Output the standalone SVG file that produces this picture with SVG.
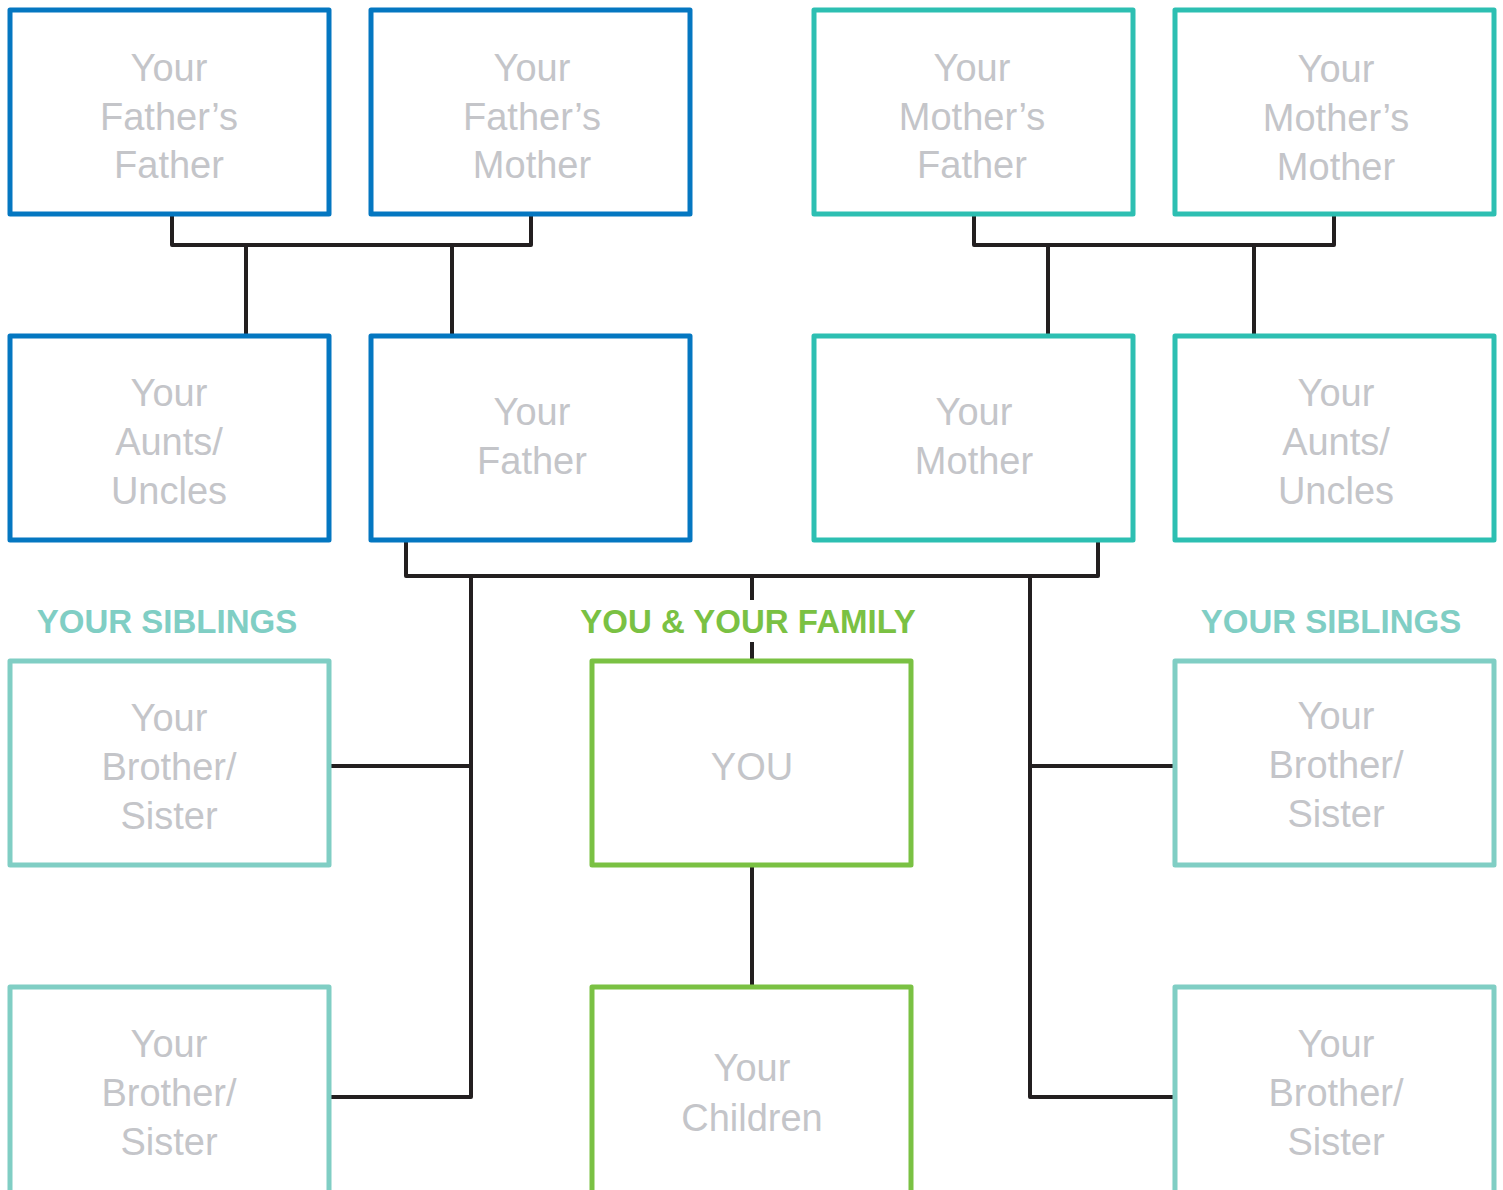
<svg xmlns="http://www.w3.org/2000/svg" width="1503" height="1190" viewBox="0 0 1503 1190">
<style>
.box{fill:#fff;stroke-width:5;stroke-linejoin:round}
.blue{stroke:#0477C1}
.teal{stroke:#2DBFB2}
.lteal{stroke:#80CEC4}
.green{stroke:#7AC143}
.t{font-family:"Liberation Sans",Arial,sans-serif;font-size:38px;fill:#C4C5C9;text-anchor:middle}
.h{font-family:"Liberation Sans",Arial,sans-serif;font-size:33px;font-weight:bold;text-anchor:middle}
.conn{fill:none;stroke:#231F20;stroke-width:4;stroke-linejoin:round}
</style>
<rect width="1503" height="1190" fill="#fff"/>
<g id="connectors" class="conn">
<path d="M172,214 V245 H531 V214"/>
<path d="M246,245 V336 M452,245 V336"/>
<path d="M974,214 V245 H1334 V214"/>
<path d="M1048,245 V336 M1254,245 V336"/>
<path d="M406,540 V576 H1098 V540"/>
<path d="M752,576 V600 M752,642 V661"/>
<path d="M471,576 V1097 H331 M471,766 H331"/>
<path d="M1030,576 V1097 H1175 M1030,766 H1175"/>
<path d="M752,865 V987"/>
</g>
<g id="ff"><rect class="box blue" x="10" y="10" width="319" height="204"/><text class="t" x="169" y="81">Your</text><text class="t" x="169" y="130">Father’s</text><text class="t" x="169" y="178">Father</text></g>
<g id="fm"><rect class="box blue" x="371" y="10" width="319" height="204"/><text class="t" x="532" y="81">Your</text><text class="t" x="532" y="130">Father’s</text><text class="t" x="532" y="178">Mother</text></g>
<g id="mf"><rect class="box teal" x="814" y="10" width="319" height="204"/><text class="t" x="972" y="81">Your</text><text class="t" x="972" y="130">Mother’s</text><text class="t" x="972" y="178">Father</text></g>
<g id="mm"><rect class="box teal" x="1175" y="10" width="319" height="204"/><text class="t" x="1336" y="82">Your</text><text class="t" x="1336" y="131">Mother’s</text><text class="t" x="1336" y="180">Mother</text></g>
<g id="fau"><rect class="box blue" x="10" y="336" width="319" height="204"/><text class="t" x="169" y="406">Your</text><text class="t" x="169" y="455">Aunts/</text><text class="t" x="169" y="504">Uncles</text></g>
<g id="father"><rect class="box blue" x="371" y="336" width="319" height="204"/><text class="t" x="532" y="425">Your</text><text class="t" x="532" y="474">Father</text></g>
<g id="mother"><rect class="box teal" x="814" y="336" width="319" height="204"/><text class="t" x="974" y="425">Your</text><text class="t" x="974" y="474">Mother</text></g>
<g id="mau"><rect class="box teal" x="1175" y="336" width="319" height="204"/><text class="t" x="1336" y="406">Your</text><text class="t" x="1336" y="455">Aunts/</text><text class="t" x="1336" y="504">Uncles</text></g>
<g id="hdr-left"><text class="h" x="167" y="633" fill="#80CEC4">YOUR SIBLINGS</text></g>
<g id="hdr-mid"><text class="h" x="748" y="633" fill="#7AC143">YOU &amp; YOUR FAMILY</text></g>
<g id="hdr-right"><text class="h" x="1331" y="633" fill="#80CEC4">YOUR SIBLINGS</text></g>
<g id="sib1"><rect class="box lteal" x="10" y="661" width="319" height="204"/><text class="t" x="169" y="731">Your</text><text class="t" x="169" y="780">Brother/</text><text class="t" x="169" y="829">Sister</text></g>
<g id="you"><rect class="box green" x="592" y="661" width="319" height="204"/><text class="t" x="752" y="780">YOU</text></g>
<g id="sib2"><rect class="box lteal" x="1175" y="661" width="319" height="204"/><text class="t" x="1336" y="729">Your</text><text class="t" x="1336" y="778">Brother/</text><text class="t" x="1336" y="827">Sister</text></g>
<g id="sib3"><rect class="box lteal" x="10" y="987" width="319" height="215"/><text class="t" x="169" y="1057">Your</text><text class="t" x="169" y="1106">Brother/</text><text class="t" x="169" y="1155">Sister</text></g>
<g id="children"><rect class="box green" x="592" y="987" width="319" height="215"/><text class="t" x="752" y="1081">Your</text><text class="t" x="752" y="1131">Children</text></g>
<g id="sib4"><rect class="box lteal" x="1175" y="987" width="319" height="215"/><text class="t" x="1336" y="1057">Your</text><text class="t" x="1336" y="1106">Brother/</text><text class="t" x="1336" y="1155">Sister</text></g>
</svg>
